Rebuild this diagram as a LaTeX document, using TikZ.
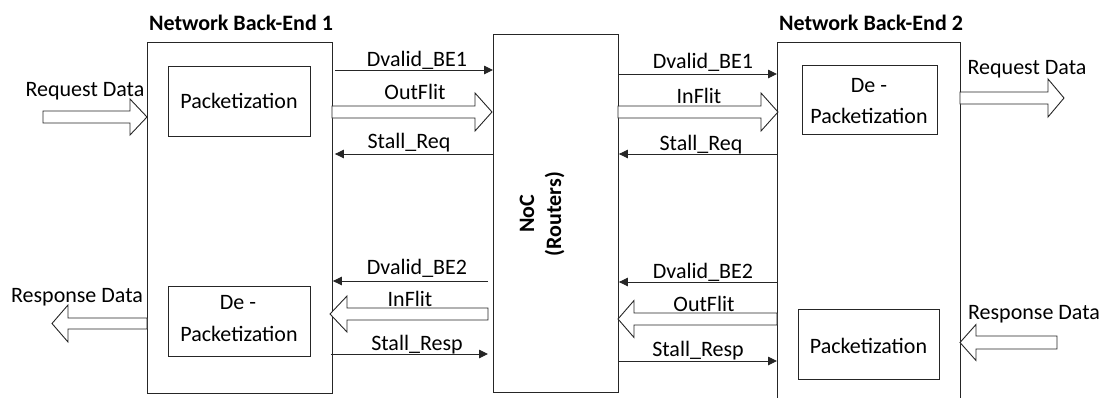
\documentclass[tikz,border=0pt]{standalone}
\usepackage{fontspec}
\setmainfont{Carlito}
\usetikzlibrary{arrows.meta,calc}
\tikzset{
  box/.style={draw=black!85, line width=0.9pt, inner sep=0pt},
  lbl/.style={inner sep=0pt, anchor=base, font=\fontsize{22}{26}\selectfont},
  ttl/.style={inner sep=0pt, anchor=base, font=\fontsize{22}{26}\selectfont\bfseries},
  sig/.style={draw=black!85, line width=0.9pt, -{Triangle[length=9pt,width=8.5pt]}},
  fat/.style={draw=black!85, line width=0.9pt, fill=white, line join=miter},
}
\newcommand{\fatarrow}[6]{%
  \draw[fat] (#1,#4-#5) -- (#2,#4-#5) -- (#2,#4-#6) -- (#3,#4) -- (#2,#4+#6) -- (#2,#4+#5) -- (#1,#4+#5) -- cycle;}
\begin{document}
\begin{tikzpicture}[x=1pt,y=-1pt]
\useasboundingbox (0,0) rectangle (1106,397);
% main blocks
\node[box, anchor=north west, minimum width=185pt, minimum height=351pt] (BE1) at (147,42) {};
\node[box, anchor=north west, minimum width=125pt, minimum height=358pt] (NoC) at (493,34) {};
\node[box, anchor=north west, minimum width=183pt, minimum height=362pt] (BE2) at (777,42) {};
% inner blocks
\node[box, anchor=north west, minimum width=142pt, minimum height=70pt] (P1) at (168,66) {};
\node[box, anchor=north west, minimum width=142pt, minimum height=70pt] (D1) at (168,286) {};
\node[box, anchor=north west, minimum width=135pt, minimum height=69pt] (D2) at (802,65) {};
\node[box, anchor=north west, minimum width=141pt, minimum height=70pt] (P2) at (798,309) {};
% titles
\node[ttl] (t1) at (241,30) {Network Back-End 1};
\node[ttl] (t2) at (871,30) {Network Back-End 2};
\node[inner sep=0pt, rotate=90, align=center, font=\fontsize{22}{27}\selectfont\bfseries] (noct) at (542,214) {NoC\\(Routers)};
% inner texts
\node[lbl] (p1t) at (239,108) {Packetization};
\node[lbl] (d1a) at (238,309) {De -};
\node[lbl] (d1b) at (239,341) {Packetization};
\node[lbl] (d2a) at (869,92) {De -};
\node[lbl] (d2b) at (869,123) {Packetization};
\node[lbl] (p2t) at (868.5,353) {Packetization};
% fat arrows
\fatarrow{43}{130}{147}{117}{6}{18}
\fatarrow{332}{475}{492}{112}{6}{19}
\fatarrow{618}{761}{778}{112}{6}{19}
\fatarrow{960}{1048}{1064}{98}{6}{19}
\fatarrow{147}{68}{52}{323.5}{5.5}{18.5}
\fatarrow{488}{347}{330}{314}{6}{18}
\fatarrow{777}{634}{618}{319}{6}{18.5}
\fatarrow{1057}{976}{960}{342.5}{6.5}{18}
% thin signal arrows
\draw[sig] ($(BE1.east |- 0,70)+(2,0)$) -- (NoC.west |- 0,70);
\draw[sig] (NoC.west |- 0,154) -- ($(BE1.east |- 0,154)+(2,0)$);
\draw[sig] ($(NoC.west |- 0,281)+(-5,0)$) -- (BE1.east |- 0,281);
\draw[sig] ($(BE1.east |- 0,354)+(-2,0)$) -- ($(NoC.west |- 0,354)+(-5,0)$);
\draw[sig] (NoC.east |- 0,74) -- (BE2.west |- 0,74);
\draw[sig] (BE2.west |- 0,154) -- (NoC.east |- 0,154);
\draw[sig] (BE2.west |- 0,282) -- (NoC.east |- 0,282);
\draw[sig] (NoC.east |- 0,361) -- (BE2.west |- 0,361);
% labels
\node[lbl] (l1) at (85,96) {Request Data};
\node[lbl] (l2) at (417,66) {Dvalid\_BE1};
\node[lbl] (l3) at (415,99) {OutFlit};
\node[lbl] (l4) at (409,148) {Stall\_Req};
\node[lbl] (l5) at (417,274) {Dvalid\_BE2};
\node[lbl] (l6) at (410,306) {InFlit};
\node[lbl] (l7) at (417,350) {Stall\_Resp};
\node[lbl] (l8) at (77,302) {Response Data};
\node[lbl] (r2) at (703,68) {Dvalid\_BE1};
\node[lbl] (r3) at (699,103) {InFlit};
\node[lbl] (r4) at (701,150) {Stall\_Req};
\node[lbl] (r1) at (1027,74) {Request Data};
\node[lbl] (r5) at (703,278) {Dvalid\_BE2};
\node[lbl] (r6) at (704,311) {OutFlit};
\node[lbl] (r7) at (698,356) {Stall\_Resp};
\node[lbl] (r8) at (1034,319) {Response Data};
\end{tikzpicture}
\end{document}
